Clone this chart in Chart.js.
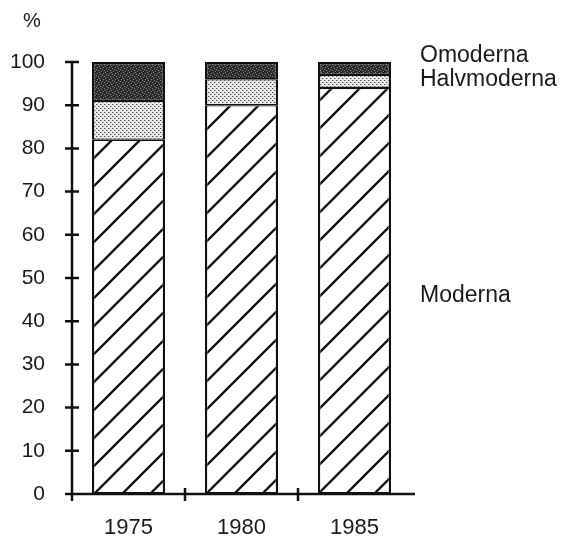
<!DOCTYPE html>
<html>
<head>
<meta charset="utf-8">
<script src="https://cdn.jsdelivr.net/npm/chart.js@4/dist/chart.umd.min.js"></script>
<style>
  html, body { margin: 0; padding: 0; background: #ffffff; }
  #c { display: block; }
</style>
</head>
<body>
<canvas id="c" width="568" height="538"></canvas>
<script>
// ---- data ----
const years = ['1975', '1980', '1985'];
const moderna = [82, 90, 94];
const halvmoderna = [9, 6, 3];
const omoderna = [9, 4, 3];
const yTicks = [0, 10, 20, 30, 40, 50, 60, 70, 80, 90, 100];
const seriesNames = ['Moderna', 'Halvmoderna', 'Omoderna'];

const canvas = document.getElementById('c');
const ctx = canvas.getContext('2d');

function makeTile(w, h, draw) {
  const t = document.createElement('canvas');
  t.width = w; t.height = h;
  draw(t.getContext('2d'), w, h);
  return ctx.createPattern(t, 'repeat');
}

// diagonal hatch for "Moderna"
const hatch = makeTile(28, 28, (g, s) => {
  g.fillStyle = '#ffffff'; g.fillRect(0, 0, s, s);
  g.strokeStyle = '#111111'; g.lineWidth = 2.3; g.lineCap = 'square';
  g.beginPath();
  g.moveTo(-3, s + 3); g.lineTo(s + 3, -3);
  g.moveTo(-3, 3); g.lineTo(3, -3);
  g.moveTo(s - 3, s + 3); g.lineTo(s + 3, s - 3);
  g.stroke();
});
// light dot screen for "Halvmoderna"
const dots = makeTile(4, 4, (g, s) => {
  g.fillStyle = '#ececec'; g.fillRect(0, 0, s, s);
  g.fillStyle = '#4a4a4a';
  g.fillRect(0, 0, 1, 1); g.fillRect(2, 2, 1, 1);
  g.fillStyle = '#a8a8a8';
  g.fillRect(1, 0, 1, 1); g.fillRect(3, 2, 1, 1);
});
// dark speckle for "Omoderna"
const dark = makeTile(6, 6, (g, s) => {
  g.fillStyle = '#2e2e2e'; g.fillRect(0, 0, s, s);
  g.fillStyle = '#808080';
  [[1,1],[4,2],[2,4],[5,5],[0,3],[3,0]].forEach(p => g.fillRect(p[0], p[1], 1, 1));
  g.fillStyle = '#141414';
  [[2,2],[5,0],[0,5]].forEach(p => g.fillRect(p[0], p[1], 1, 1));
});

const FONT = "'Liberation Sans', Arial, Helvetica, sans-serif";

const axesPlugin = {
  id: 'axesPlugin',
  afterDraw(chart) {
    const c = chart.ctx;
    const xs = chart.scales.x, ys = chart.scales.y;
    const left = chart.chartArea.left;
    const bottom = ys.getPixelForValue(0);
    const top = ys.getPixelForValue(100);
    c.save();
    c.strokeStyle = '#111111';
    c.lineWidth = 2.5;
    c.beginPath();
    // y axis
    c.moveTo(left, top); c.lineTo(left, bottom + 7);
    // y ticks crossing axis
    yTicks.forEach(v => {
      const y = ys.getPixelForValue(v);
      c.moveTo(left - 7, y); c.lineTo(left + 7, y);
    });
    // x axis
    c.moveTo(left - 7, bottom); c.lineTo(chart.chartArea.right + 4, bottom);
    // x ticks between categories
    for (let i = 0; i < years.length - 1; i++) {
      const x = (xs.getPixelForValue(i) + xs.getPixelForValue(i + 1)) / 2;
      c.moveTo(x, bottom - 6); c.lineTo(x, bottom + 7);
    }
    c.stroke();

    // "%" unit label
    c.fillStyle = '#1a1a1a';
    c.font = '20px ' + FONT;
    c.textAlign = 'center';
    c.textBaseline = 'middle';
    c.fillText('%', 32, top - 41);

    // segment labels at right
    c.font = '23px ' + FONT;
    c.textAlign = 'left';
    const lx = chart.chartArea.right + 9;
    c.fillText(seriesNames[2], lx, ys.getPixelForValue(101.4));
    c.fillText(seriesNames[1], lx, ys.getPixelForValue(96));
    c.fillText(seriesNames[0], lx, ys.getPixelForValue(46));
    c.restore();
  }
};

new Chart(canvas, {
  type: 'bar',
  data: {
    labels: years,
    datasets: [
      { label: seriesNames[0], data: moderna, backgroundColor: hatch, borderColor: '#111111',
        borderWidth: { left: 2.3, right: 2.3, bottom: 2, top: 1.3 }, borderSkipped: false },
      { label: seriesNames[1], data: halvmoderna, backgroundColor: dots, borderColor: '#111111',
        borderWidth: { left: 2.3, right: 2.3, bottom: 1.3, top: 1.3 }, borderSkipped: false },
      { label: seriesNames[2], data: omoderna, backgroundColor: dark, borderColor: '#111111',
        borderWidth: { left: 2.3, right: 2.3, bottom: 1.3, top: 2.3 }, borderSkipped: false }
    ]
  },
  options: {
    responsive: false,
    animation: false,
    events: [],
    layout: { padding: { top: 62, right: 157, left: 0, bottom: 0 } },
    datasets: { bar: { barPercentage: 0.646, categoryPercentage: 1 } },
    plugins: { legend: { display: false }, tooltip: { enabled: false } },
    scales: {
      x: {
        stacked: true,
        offset: true,
        grid: { display: false },
        border: { display: false },
        ticks: { color: '#1a1a1a', font: { family: FONT, size: 22 }, padding: 13, maxRotation: 0 },
        afterFit(scale) { scale.height = 44; }
      },
      y: {
        stacked: true,
        min: 0, max: 100,
        afterBuildTicks(scale) { scale.ticks = yTicks.map(v => ({ value: v })); },
        grid: { display: false },
        border: { display: false },
        ticks: { color: '#1a1a1a', font: { family: FONT, size: 21 }, padding: 19 },
        afterFit(scale) { scale.width = 72; }
      }
    }
  },
  plugins: [axesPlugin]
});
</script>
</body>
</html>
